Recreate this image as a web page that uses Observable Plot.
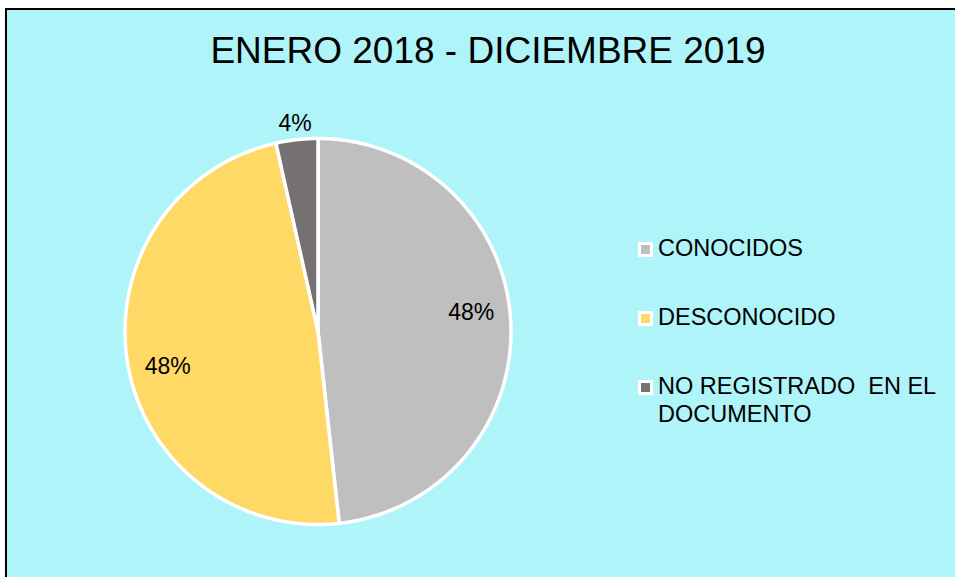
<!DOCTYPE html>
<html>
<head>
<meta charset="utf-8">
<script src="https://cdn.jsdelivr.net/npm/d3@7"></script>
<script src="https://cdn.jsdelivr.net/npm/@observablehq/plot@0.6"></script>
<style>
  html, body { margin: 0; padding: 0; background: #ffffff; overflow: hidden; }
  #wrap { position: relative; width: 955px; height: 577px; overflow: hidden; font-family: "Liberation Sans", Arial, sans-serif; }
  #frame { position: absolute; left: 5px; top: 8px; width: 1100px; height: 700px; background: #AFF4F8; border: 2px solid #000; box-sizing: border-box; }
  #title { position: absolute; left: 0; width: 976px; text-align: center; font-size: 37px; line-height: 37px; color: #000; white-space: nowrap; }
  .leg { position: absolute; left: 658px; font-size: 23.5px; line-height: 27.7px; color: #000; white-space: pre; }
  .mk { position: absolute; left: 638px; width: 15px; height: 15px; background: #fff; box-sizing: border-box; border: 3px solid #fff; }
  #plot { position: absolute; left: 0; top: 0; }
</style>
</head>
<body>
<div id="wrap">
  <div id="frame"></div>
  <div id="plot"></div>
  <div id="title"></div>
  <div id="legend"></div>
</div>
<script>
const title = "ENERO 2018 - DICIEMBRE 2019";
const categories = ["CONOCIDOS", "DESCONOCIDO", "NO REGISTRADO  EN EL DOCUMENTO"];
const legendLines = [["CONOCIDOS"], ["DESCONOCIDO"], ["NO REGISTRADO  EN EL", "DOCUMENTO"]];
const values = [48.25, 48.25, 3.5];
const colors = ["#BFBFBF", "#FFD966", "#767171"];

// title
const t = document.getElementById("title");
t.textContent = title;
t.style.top = (63 - 0.8465 * 37) + "px";

// legend
const legend = document.getElementById("legend");
const baselines = [257.3, 326, 395];
legendLines.forEach((lines, i) => {
  const mk = document.createElement("div");
  mk.className = "mk";
  mk.style.top = (baselines[i] - 15) + "px";
  mk.style.background = colors[i];
  legend.appendChild(mk);
  const d = document.createElement("div");
  d.className = "leg";
  d.style.top = (baselines[i] - 22) + "px";
  d.textContent = lines.join("\n");
  legend.appendChild(d);
});

// pie geometry from values
const total = d3.sum(values);
const arcs = d3.pie().sort(null).value(d => d)(values);
const pts = [];
arcs.forEach((a, i) => {
  const key = categories[i];
  pts.push({key, x: 0, y: 0});
  const n = Math.max(4, Math.ceil((a.endAngle - a.startAngle) / (Math.PI / 360)));
  for (let k = 0; k <= n; k++) {
    const ang = a.startAngle + (a.endAngle - a.startAngle) * k / n;
    pts.push({key, x: Math.sin(ang), y: Math.cos(ang)});
  }
  pts.push({key, x: 0, y: 0});
});
const labelData = arcs.map((a, i) => {
  const small = values[i] / total < 0.1;
  const mid = (a.startAngle + a.endAngle) / 2 - (small ? 0 : 3.8 * Math.PI / 180);
  const f = small ? 1.085 : 0.8;
  return {x: f * Math.sin(mid), y: f * Math.cos(mid), text: Math.round(values[i] / total * 100) + "%"};
});

const cx = 317.5, cy = 331, r = 193;
const chart = Plot.plot({
  width: 955,
  height: 577,
  margin: 0,
  style: {background: "transparent", overflow: "visible"},
  x: {domain: [-1, 1], range: [cx - r, cx + r], axis: null},
  y: {domain: [-1, 1], range: [cy + r, cy - r], axis: null},
  color: {domain: categories, range: colors},
  marks: [
    Plot.line(pts, {x: "x", y: "y", z: "key", fill: "key", stroke: "white", strokeWidth: 3.5, strokeLinejoin: "round"}),
    Plot.text(labelData, {x: "x", y: "y", text: "text", fontSize: 23, fill: "black", fontFamily: "Liberation Sans, Arial, sans-serif"})
  ]
});
document.getElementById("plot").appendChild(chart);
</script>
</body>
</html>
